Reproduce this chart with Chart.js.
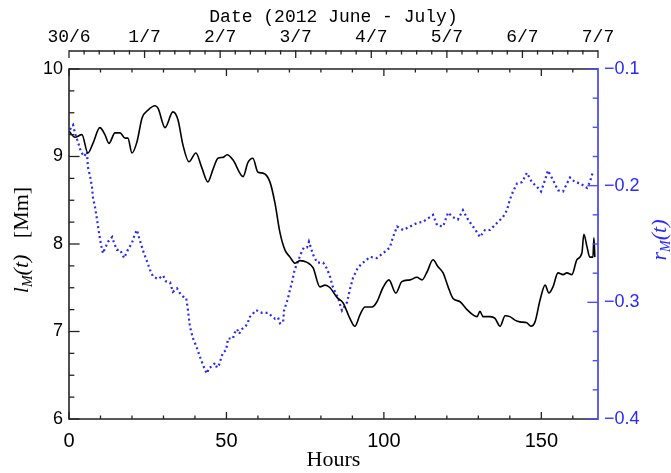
<!DOCTYPE html>
<html><head><meta charset="utf-8">
<script src="https://cdn.jsdelivr.net/npm/chart.js@4.4.1/dist/chart.umd.min.js"></script>
<style>html,body{margin:0;padding:0;background:#fff}#wrap{width:671px;height:473px}</style>
</head><body><div id="wrap"><canvas id="c" width="671" height="473"></canvas></div>
<script>
// ---- data ----
const lmHours = [0,1.9,4.1,6.0,7.6,9.8,11.4,12.7,14.6,16.2,17.8,18.7,20.0,21.6,23.2,25.1,27.3,28.3,30.5,33.0,
  34.6,36.2,38.1,40.3,42.2,44.1,45.7,47.3,48.9,50.2,52.1,55.3,56.8,58.4,60.0,61.6,63.8,65.4,67.0,68.6,
  70.2,71.8,73.4,75.6,77.5,79.7,81.3,82.9,85.1,87.0,89.2,90.8,92.4,94.0,96.2,97.8,99.7,101.6,103.8,105.7,
  108.3,110.5,112.1,113.7,115.6,117.2,118.8,120.4,121.9,124.2,126.4,128.3,129.6,130.5,131.5,133.7,135.3,136.9,138.5,140.0,
  141.6,143.2,145.4,146.7,148.0,149.6,151.2,152.4,153.7,155.3,156.9,158.1,159.7,161.3,162.9,163.5,164.5,165.4,166.4,166.7,167.0];
const lmValues = [9.29,9.22,9.25,9.04,9.15,9.33,9.25,9.15,9.27,9.27,9.21,9.21,9.04,9.17,9.44,9.53,9.58,9.55,9.33,9.51,
  9.42,9.13,8.94,9.04,8.87,8.71,8.85,8.98,8.99,9.02,8.96,8.77,8.93,8.98,8.82,8.81,8.71,8.47,8.13,7.93,
  7.85,7.78,7.81,7.79,7.73,7.51,7.53,7.50,7.39,7.33,7.15,7.06,7.19,7.28,7.28,7.34,7.50,7.59,7.44,7.57,
  7.59,7.62,7.59,7.68,7.82,7.74,7.67,7.51,7.38,7.34,7.25,7.19,7.17,7.23,7.17,7.17,7.15,7.06,7.18,7.17,
  7.13,7.11,7.10,7.06,7.11,7.36,7.53,7.44,7.51,7.67,7.65,7.67,7.65,7.82,7.90,8.11,7.97,7.85,7.85,8.07,7.85];

const rmHours = [0.3,1.3,1.9,2.9,3.8,4.8,5.7,6.0,6.7,7.3,7.6,8.3,8.9,9.5,10.2,10.8,11.4,12.4,13.7,14.3,
  15.2,16.2,17.5,18.7,20.0,21.0,21.6,22.2,23.2,23.8,24.8,25.7,26.7,28.3,29.9,30.8,32.1,33.0,34.3,35.2,
  36.2,37.2,37.8,38.4,39.4,40.6,41.9,43.2,43.8,44.5,45.4,46.4,47.0,47.6,48.3,48.9,49.9,50.5,52.1,52.4,
  53.4,54.0,54.9,55.9,56.8,57.2,58.4,59.1,59.7,61.3,63.2,64.5,65.4,66.4,67.0,68.0,68.3,68.9,69.5,70.2,
  70.8,71.5,72.1,72.7,73.4,74.0,74.6,75.6,76.2,77.5,78.8,80.7,81.9,82.9,83.8,85.4,86.7,88.3,89.2,90.2,
  91.8,93.4,95.6,97.8,99.7,101.9,102.9,104.2,106.1,108.3,110.5,112.4,114.6,115.6,116.9,118.8,120.4,121.9,123.5,125.1,
  126.7,128.3,129.6,130.5,132.1,133.7,135.9,137.8,139.1,140.0,141.0,142.3,143.9,145.4,147.0,148.6,149.9,151.2,152.1,153.7,
  155.3,156.9,159.1,160.7,162.3,164.5,165.4,166.4];
const rmValues = [-0.152,-0.148,-0.155,-0.163,-0.171,-0.175,-0.171,-0.184,-0.192,-0.201,-0.210,-0.219,-0.229,-0.240,-0.251,-0.258,-0.254,-0.248,-0.244,-0.249,
  -0.255,-0.255,-0.262,-0.255,-0.249,-0.241,-0.238,-0.244,-0.253,-0.258,-0.265,-0.272,-0.278,-0.280,-0.277,-0.282,-0.283,-0.291,-0.288,-0.292,
  -0.295,-0.296,-0.307,-0.321,-0.331,-0.339,-0.349,-0.358,-0.361,-0.356,-0.355,-0.352,-0.356,-0.354,-0.348,-0.343,-0.341,-0.331,-0.331,-0.327,
  -0.323,-0.327,-0.323,-0.321,-0.318,-0.313,-0.310,-0.307,-0.307,-0.309,-0.309,-0.312,-0.314,-0.313,-0.318,-0.317,-0.307,-0.302,-0.297,-0.289,
  -0.283,-0.274,-0.269,-0.265,-0.260,-0.256,-0.253,-0.253,-0.248,-0.259,-0.266,-0.266,-0.271,-0.278,-0.287,-0.296,-0.307,-0.300,-0.289,-0.279,
  -0.270,-0.266,-0.261,-0.262,-0.258,-0.253,-0.244,-0.235,-0.238,-0.235,-0.232,-0.231,-0.227,-0.225,-0.234,-0.235,-0.223,-0.227,-0.229,-0.221,
  -0.229,-0.235,-0.240,-0.244,-0.238,-0.238,-0.232,-0.227,-0.221,-0.212,-0.205,-0.198,-0.197,-0.189,-0.197,-0.201,-0.205,-0.195,-0.187,-0.195,
  -0.204,-0.205,-0.193,-0.197,-0.198,-0.202,-0.197,-0.188];

const hourTicks = [0, 50, 100, 150];
const lmTicks = [6, 7, 8, 9, 10];
const rmTicks = [-0.4, -0.3, -0.2, -0.1];
const dateTickHours = [0, 24, 48, 72, 96, 120, 144, 168];
const dateLabels = ['30/6', '1/7', '2/7', '3/7', '4/7', '5/7', '6/7', '7/7'];
const hourMinorStep = 10, lmMinorStep = 0.25, rmMinorStep = 0.025, dateMinorStep = 4.8;

const BLUE = 'rgb(40,40,255)';
const BLUE_AXIS = 'rgb(80,80,235)';

const toXY = (xs, ys) => xs.map((x, i) => ({x, y: ys[i]}));

const idlAxes = {
  id: 'idlAxes',
  afterDraw(chart) {
    const ctx = chart.ctx, a = chart.chartArea;
    const sx = chart.scales.x, sy = chart.scales.y, sy2 = chart.scales.y2, sd = chart.scales.xd;
    const line = (x1, y1, x2, y2) => { ctx.beginPath(); ctx.moveTo(x1, y1); ctx.lineTo(x2, y2); ctx.stroke(); };
    ctx.save();
    ctx.lineCap = 'butt';
    ctx.strokeStyle = '#222'; ctx.lineWidth = 1.6;
    line(a.left, a.top, a.right, a.top);
    line(a.left, a.top - 0.8, a.left, a.bottom + 0.8);
    line(a.left, a.bottom, a.right, a.bottom);
    ctx.lineWidth = 1.3;
    for (let h = sx.min; h <= sx.max + 1e-9; h += hourMinorStep) {
      const px = sx.getPixelForValue(h);
      const L = hourTicks.includes(h) ? 7 : 3.5;
      line(px, a.bottom, px, a.bottom - L);
      line(px, a.top, px, a.top + L);
    }
    for (let v = sy.min; v <= sy.max + 1e-9; v += lmMinorStep) {
      const py = sy.getPixelForValue(v);
      const L = Math.abs(v - Math.round(v)) < 1e-6 ? 10.6 : 5.3;
      line(a.left, py, a.left + L, py);
    }
    // date axis above the plot
    const yd = a.top - 18;
    ctx.lineWidth = 1.5;
    line(sd.left, yd, sd.right, yd);
    ctx.lineWidth = 1.3;
    for (let h = sd.min; h <= sd.max + 1e-6; h += dateMinorStep) {
      const px = sd.getPixelForValue(h);
      const major = dateTickHours.some(d => Math.abs(d - h) < 1e-6);
      line(px, yd - 0.7, px, yd + (major ? 7 : 3.5));
    }
    // right axis (blue)
    ctx.strokeStyle = BLUE_AXIS; ctx.lineWidth = 1.8;
    line(a.right, a.top - 0.9, a.right, a.bottom + 0.9);
    ctx.lineWidth = 1.4;
    for (let v = sy2.min; v <= sy2.max + 1e-9; v += rmMinorStep) {
      const py = sy2.getPixelForValue(v);
      const major = rmTicks.some(t => Math.abs(t - v) < 1e-6);
      line(a.right, py, a.right - (major ? 10.6 : 5.3), py);
    }
    // axis titles with subscripts
    const drawRot = (cx, cy, parts, color) => {
      ctx.save();
      ctx.translate(cx, cy); ctx.rotate(-Math.PI / 2);
      ctx.fillStyle = color; ctx.textBaseline = 'alphabetic'; ctx.textAlign = 'left';
      let total = 0;
      parts.forEach(p => { ctx.font = p.f; total += ctx.measureText(p.t).width; });
      let x = -total / 2;
      parts.forEach(p => { ctx.font = p.f; ctx.fillText(p.t, x, p.dy || 0); x += ctx.measureText(p.t).width; });
      ctx.restore();
    };
    const it = 'italic 22px "Liberation Serif"', sub = 'italic 14px "Liberation Serif"';
    drawRot(28, 240, [{t: 'l', f: it}, {t: 'M', f: sub, dy: 4}, {t: '(t)', f: it}, {t: '   [Mm]', f: '22px "Liberation Serif"'}], '#000');
    drawRot(666, 240, [{t: 'r', f: it}, {t: 'M', f: sub, dy: 4}, {t: '(t)', f: it}], BLUE);
    ctx.restore();
  }
};

new Chart(document.getElementById('c'), {
  type: 'line',
  data: {
    datasets: [
      { label: 'lM', data: toXY(lmHours, lmValues), xAxisID: 'x', yAxisID: 'y',
        borderColor: '#000', borderWidth: 1.6, pointRadius: 0, cubicInterpolationMode: 'monotone', fill: false },
      { label: 'rM', data: toXY(rmHours, rmValues), xAxisID: 'x', yAxisID: 'y2',
        borderColor: BLUE, borderWidth: 2.2, borderDash: [2, 3], borderCapStyle: 'butt', pointRadius: 0, tension: 0, fill: false }
    ]
  },
  options: {
    responsive: false, animation: false, devicePixelRatio: 1,
    layout: { padding: 0 },
    plugins: { legend: { display: false }, tooltip: { enabled: false } },
    scales: {
      x: { type: 'linear', position: 'bottom', min: 0, max: 168,
        afterBuildTicks: s => { s.ticks = hourTicks.map(v => ({value: v})); },
        ticks: { font: {family: 'Liberation Sans', size: 20}, color: '#000', padding: 10, maxRotation: 0, autoSkip: false },
        grid: { display: false, drawTicks: false }, border: { display: false },
        title: { display: true, text: 'Hours', font: {family: 'Liberation Serif', size: 22}, color: '#000', padding: 0 },
        afterFit: s => { s.height = 54; } },
      xd: { type: 'linear', position: 'top', min: 0, max: 168,
        afterBuildTicks: s => { s.ticks = dateTickHours.map(v => ({value: v})); },
        ticks: { font: {family: 'Liberation Mono', size: 18}, color: '#000', padding: 21, maxRotation: 0, autoSkip: false,
          callback: (v, i) => dateLabels[i] },
        grid: { display: false, drawTicks: false }, border: { display: false },
        title: { display: true, text: 'Date (2012 June - July)', font: {family: 'Liberation Mono', size: 18}, color: '#000', padding: {top: 6, bottom: 0} },
        afterFit: s => { s.height = 69; } },
      y: { type: 'linear', position: 'left', min: 6, max: 10,
        afterBuildTicks: s => { s.ticks = lmTicks.map(v => ({value: v})); },
        ticks: { font: {family: 'Liberation Sans', size: 18}, color: '#000', padding: 6 },
        grid: { display: false, drawTicks: false }, border: { display: false },
        afterFit: s => { s.width = 69; } },
      y2: { type: 'linear', position: 'right', min: -0.4, max: -0.1,
        afterBuildTicks: s => { s.ticks = rmTicks.map(v => ({value: v})); },
        ticks: { font: {family: 'Liberation Sans', size: 18}, color: BLUE, padding: 6,
          callback: v => '\u2212' + Math.abs(v).toFixed(1) },
        grid: { display: false, drawTicks: false }, border: { display: false },
        afterFit: s => { s.width = 73; } }
    }
  },
  plugins: [idlAxes]
});
</script>
</body></html>
